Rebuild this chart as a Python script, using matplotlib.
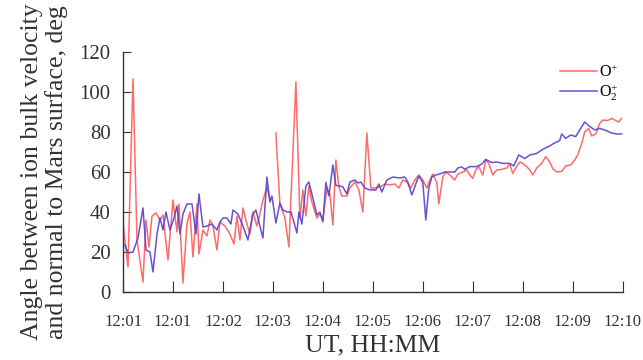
import numpy as np
import matplotlib
matplotlib.use("Agg")
import matplotlib.pyplot as plt

plt.rcParams['font.family'] = ['Liberation Serif', 'DejaVu Serif']
plt.rcParams['mathtext.fontset'] = 'custom'
plt.rcParams['mathtext.rm'] = 'Liberation Serif'
plt.rcParams['mathtext.it'] = 'Liberation Serif'

# time in seconds from start of interval, angle in degrees
t_o = [0, 5, 10, 14, 20, 23, 26, 29, 33, 37,
       40, 45, 50, 54, 56, 60, 64, 67, 70, 74,
       76, 80, 84, 87, 90, 94, 97, 102, 107, 111,
       114, 117, 120, 124, 127, 130, 134, 137, 140, 144,
       147, 150, 153, 157, 162, 166, 173, 177, 180, 183,
       186, 189, 194, 197, 200, 204, 207, 210, 213, 216,
       219, 224, 227, 232, 236, 240, 244, 248, 252, 257,
       262, 267, 272, 276, 280, 284, 288, 292, 296, 300,
       304, 307, 310, 314, 316, 320, 323, 327, 332, 335,
       340, 344, 347, 350, 353, 356, 360, 363, 366, 370,
       374, 379, 384, 387, 390, 393, 397, 400, 404, 407,
       410, 414, 419, 423, 427, 430, 434, 439, 443, 448,
       452, 455, 459, 462, 466, 469, 473, 477, 480, 485,
       489, 493, 496, 499]
v_o = [34.5, 12.5, 106.5, 26, 5, 36, 22.5, 38, 39.5, 36,
       38.5, 16, 46, 30, 44, 4.5, 34, 40, 17.5, 44,
       19, 31, 28, 36, 33, 21, 35, 33, 29, 24,
       38, 26, 42, 34, 29, 40, 33, 39, 46, 52.5,
       46, np.nan, 79.5, 44, 37, 22.5, 105, 37, 51, 38,
       53, 45, 37, 39, 36, 52, 49, 33.5, 66, 52.5,
       48, 48, 52, 55, 51, 40, 79.5, 52, 52, 52.5,
       54, 53.5, 54, 52, 56, 55, 52, 56, 58.5, 56,
       52, 56, 59, 54.7, 44, 57.5, 60, 58.5, 56, 59,
       60, 61, 58.5, 56.8, 61, 62.7, 58.5, 66, 64.3, 58.5,
       61, 61.3, 62, 64, 59.3, 62, 65, 64.3, 62.7, 61,
       58.5, 62, 64.3, 67.7, 65, 61.7, 60, 60.3, 63, 63.5,
       66, 68.5, 74.3, 80, 81.8, 78, 79, 84.3, 86, 85.7,
       86.8, 85.7, 85, 86.8]

t_o2 = [2, 5, 10, 15, 20, 23, 27, 30, 34, 37,
        40, 43, 47, 51, 54, 57, 60, 64, 69, 73,
        76, 80, 84, 89, 94, 97, 100, 104, 108, 110,
        115, 120, 125, 130, 133, 137, 140, 144, 147, 149,
        153, 157, 160, 164, 168, 171, 174, 176, 179, 183,
        186, 189, 194, 197, 200, 203, 206, 210, 213, 217,
        220, 224, 227, 232, 235, 238, 242, 247, 253, 256,
        259, 264, 270, 277, 282, 285, 289, 293, 296, 300,
        303, 306, 309, 313, 317, 322, 327, 332, 335, 339,
        342, 347, 354, 359, 363, 369, 374, 380, 387, 391,
        396, 402, 407, 414, 420, 422, 427, 431, 437, 439,
        443, 448, 453, 457, 462, 467, 472, 477, 482, 489,
        494, 499]
v_o2 = [23.5, 19.5, 20, 27, 42, 21, 20, 10, 29, 37,
        31, 40, 31, 37, 43, 29, 39, 44, 44, 29,
        49, 32.5, 33, 34, 31, 35, 37, 37, 34, 41,
        39, 33, 26, 39, 41, 33, 27, 57.5, 45, 48,
        34.5, 44.5, 41, 40, 40, 35, 29.5, 40, 34, 53,
        55, 49, 38.5, 40, 35, 54.8, 48, 63.5, 53.3, 53,
        52.5, 49, 55, 56, 54.5, 55, 52, 51, 51, 54,
        50, 56, 57.5, 57, 57.5, 55, 48.5, 54, 58, 54.7,
        36, 52, 57.5, 58.5, 59, 60, 60, 60, 62, 62.5,
        61.3, 62.7, 62.7, 64, 66.3, 64.7, 65, 64.3, 64.3, 63,
        68.5, 66.7, 68.5, 69.3, 71.3, 71.8, 73, 74.3, 75.7, 79,
        76.8, 78.5, 77.7, 81, 85, 82.8, 81, 81.8, 81, 79.5,
        79, 79]

tick_pos = [0, 50, 100, 150, 200, 250, 300, 350, 400, 450, 500]
tick_labels = ['12:01', '12:01', '12:02', '12:03', '12:04', '12:05',
               '12:06', '12:07', '12:08', '12:09', '12:10']

fig = plt.figure(figsize=(6.43, 3.6), dpi=100)
ax = fig.add_axes([0.1913, 0.1889, 0.7771, 0.6667])

ax.plot(t_o, v_o, color='#ff5a5a', lw=1.1, alpha=0.9, label=r'O$^{+}$')
ax.plot(t_o2, v_o2, color='#5540cc', lw=1.1, alpha=0.9, label=r'O$_{2}^{+}$')

ax.set_xlim(0, 500)
ax.set_ylim(0, 120)
ax.set_yticks(range(0, 121, 20))
ax.set_xticks(tick_pos)
ax.set_xticklabels(tick_labels)

for s in ['top', 'right']:
    ax.spines[s].set_visible(False)
for s in ['left', 'bottom']:
    ax.spines[s].set_color('#333333')
    ax.spines[s].set_linewidth(1.0)

ax.tick_params(axis='y', direction='in', length=6, labelsize=15, colors='#333333', pad=9)
ax.tick_params(axis='x', direction='in', length=8, labelsize=12, colors='#333333', pad=16)

ax.set_xlabel('UT, HH:MM', fontsize=18.5, color='#333333', labelpad=3)
ax.set_ylabel('Angle between ion bulk velocity\nand normal to Mars surface, deg',
              fontsize=18.5, color='#333333', linespacing=1.1, labelpad=8)

ax.legend(loc='upper right', bbox_to_anchor=(1.01, 0.99), frameon=False,
          fontsize=11.5, handlelength=2.3, handletextpad=0.1, labelspacing=0.1,
          borderaxespad=0.2)

fig.savefig('out.png', dpi=100)
